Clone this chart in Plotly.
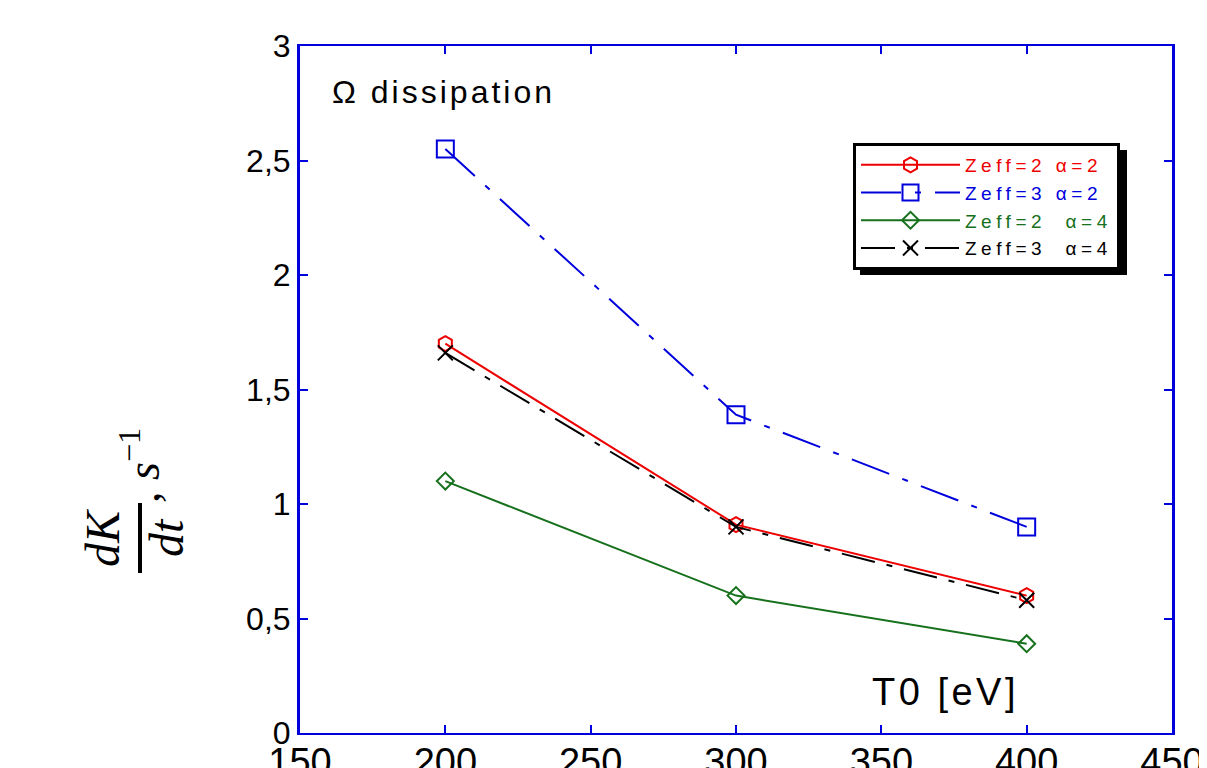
import plotly.graph_objects as go

# ---- data ----
T0 = [200, 300, 400]
zeff2_a2 = [1.70, 0.91, 0.60]
zeff3_a2 = [2.55, 1.39, 0.90]
zeff2_a4 = [1.10, 0.60, 0.39]
zeff3_a4 = [1.66, 0.90, 0.58]

series_names = ["Zeff=2 \u03b1=2", "Zeff=3 \u03b1=2", "Zeff=2  \u03b1=4", "Zeff=3  \u03b1=4"]
x_tickvals = [150, 200, 250, 300, 350, 400, 450]
x_ticktext = ["150", "200", "250", "300", "350", "400", "450"]
y_tickvals = [0, 0.5, 1, 1.5, 2, 2.5, 3]
y_ticktext = ["0", "0,5", "1", "1,5", "2", "2,5", "3"]

W, H = 1207, 768
OFF = 8  # page body margin of the generated html
# plot area in page pixels: x 300..1172, y 46..733
L, T = 300 - OFF, 46 - OFF
R, B = W - (1172 - OFF), H - (733 - OFF)
PW, PH = W - L - R, H - T - B


def px2paper(px, py):
    return (px - 300) / PW, (733 - py) / PH


AX = "#0000dd"
SANS = "Liberation Sans, Arial, sans-serif"
SERIF = "Liberation Serif, Times New Roman, serif"

fig = go.Figure()

styles = [
    dict(color="#ee0000", dash="solid", symbol="hexagon-open", size=15),
    dict(color="#0000dd", dash="40px,14px,6px,14px", symbol="square-open", size=17),
    dict(color="#16701c", dash="solid", symbol="diamond-open", size=13),
    dict(color="#000000", dash="34px,12px,6px,12px", symbol="x-thin-open", size=15),
]
ys = [zeff2_a2, zeff3_a2, zeff2_a4, zeff3_a4]

for name, y, st in zip(series_names, ys, styles):
    fig.add_trace(go.Scatter(
        x=T0, y=y, mode="lines+markers",
        name="<span style='color:%s;letter-spacing:4.5px'>%s</span>" % (st["color"], name),
        line=dict(color=st["color"], width=2, dash=st["dash"]),
        marker=dict(symbol=st["symbol"], size=st["size"], color=st["color"],
                    line=dict(color=st["color"], width=2)),
    ))

fig.update_xaxes(
    range=[150, 450], tickvals=x_tickvals, ticktext=x_ticktext,
    showline=True, linecolor=AX, linewidth=2, mirror="ticks",
    ticks="inside", ticklen=8, tickwidth=2, tickcolor=AX,
    showgrid=False, zeroline=False, automargin=False,
    ticklabelstandoff=-6,
    tickfont=dict(family=SANS, size=38, color="black"),
)
fig.update_yaxes(
    range=[0, 3], tickvals=y_tickvals, ticktext=y_ticktext,
    showline=True, linecolor=AX, linewidth=3, mirror="ticks",
    ticks="inside", ticklen=8, tickwidth=2, tickcolor=AX,
    showgrid=False, zeroline=False, automargin=False,
    tickfont=dict(family=SANS, size=32, color="black"),
)

# legend shadow
sx0, sy0 = px2paper(860, 275)
sx1, sy1 = px2paper(1127, 150)
fig.add_shape(type="rect", xref="paper", yref="paper", x0=sx0, y0=sy0, x1=sx1, y1=sy1,
              fillcolor="black", line=dict(width=0), layer="above")

lx, ly = px2paper(853, 143)
fig.update_layout(
    width=W, height=H,
    margin=dict(l=L, r=R, t=T, b=B),
    paper_bgcolor="white", plot_bgcolor="white",
    showlegend=True,
    legend=dict(x=lx, y=ly, xanchor="left", yanchor="top",
                bgcolor="white", bordercolor="black", borderwidth=3,
                font=dict(family=SANS, size=19, color="black"),
                itemwidth=99, tracegroupgap=0),
)

annos = []
ax_, ay_ = px2paper(330, 92)
annos.append(dict(text="<span style='letter-spacing:3px'>\u03a9 dissipation</span>", x=ax_, y=ay_,
                  xanchor="left", yanchor="middle",
                  font=dict(family=SANS, size=32, color="black")))
ax_, ay_ = px2paper(945, 692)
annos.append(dict(text="<span style='letter-spacing:3.5px'>T0 [eV]</span>", x=ax_, y=ay_,
                  xanchor="center", yanchor="middle",
                  font=dict(family=SANS, size=38, color="black")))
# y-axis label, built as a rotated fraction
ax_, ay_ = px2paper(102, 538)
annos.append(dict(text="<i>dK</i>", x=ax_, y=ay_, xanchor="center", yanchor="middle",
                  textangle=-90, font=dict(family=SERIF, size=48, color="black")))
ax_, ay_ = px2paper(166, 538)
annos.append(dict(text="<i>dt</i>", x=ax_, y=ay_, xanchor="center", yanchor="middle",
                  textangle=-90, font=dict(family=SERIF, size=48, color="black")))
ax_, ay_ = px2paper(140, 466)
annos.append(dict(text=", <i>s</i><sup>\u22121</sup>", x=ax_, y=ay_, xanchor="center", yanchor="middle",
                  textangle=-90, font=dict(family=SERIF, size=46, color="black")))
for a in annos:
    a.update(xref="paper", yref="paper", showarrow=False)
fig.update_layout(annotations=annos)

bx0, by0 = px2paper(138, 573)
bx1, by1 = px2paper(142, 503)
fig.add_shape(type="rect", xref="paper", yref="paper", x0=bx0, y0=by0, x1=bx1, y1=by1,
              fillcolor="black", line=dict(width=0))

fig.write_html("out.html")
